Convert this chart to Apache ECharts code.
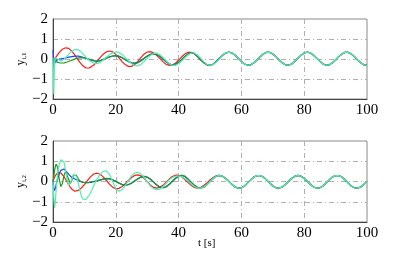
<!DOCTYPE html>
<html><head><meta charset="utf-8">
<script src="https://cdn.jsdelivr.net/npm/echarts@6/dist/echarts.min.js"></script>
<style>html,body{margin:0;padding:0;background:#fff}#c{width:406px;height:257px}</style>
</head><body><div id="c"></div><script>
// sample times: 0..1 step 0.25, 1.5..12 step 0.5, 13..100 step 1
const timesEarly = [0,0.25,0.5,0.75,1,1.5,2,2.5,3,3.5,4,4.5,5,5.5,6,6.5,7,7.5,8,8.5,9,9.5,10,10.5,11,11.5,12];
const timesLate = [];
for (let t = 13; t <= 100; t++) timesLate.push(t);
const times = timesEarly.concat(timesLate);

const xTicks = [0,20,40,60,80,100];
const yTicks = [-2,-1,0,1,2];

// ---- top panel (y_i,1): t = 0 .. 53 ----
const top_red = [-0.11,-0.06,0.00,0.06,0.11,
 0.22,0.33,0.42,0.49,0.53,0.56,0.55,0.53,0.47,0.39,0.30,0.19,0.07,-0.04,-0.16,-0.26,-0.34,-0.41,-0.45,-0.46,-0.45,-0.42,
 -0.30,-0.13,0.07,0.24,0.36,0.40,0.36,0.23,0.06,-0.13,-0.28,-0.37,-0.37,-0.28,-0.12,0.07,0.24,0.35,0.37,0.31,0.18,0.03,-0.13,-0.26,-0.32,-0.30,-0.21,-0.06,0.11,0.25,0.33,0.33,0.26,0.12,-0.04,-0.19,-0.29,-0.33,-0.26,-0.13,0.03];
const top_blue = [0.45,-0.38,-0.22,-0.12,-0.07,
 -0.03,-0.01,0.00,0.02,0.03,0.05,0.07,0.09,0.11,0.12,0.13,0.14,0.14,0.14,0.13,0.11,0.09,0.06,0.03,0.00,-0.03,-0.06,
 -0.10,-0.11,-0.08,-0.02,0.05,0.11,0.15,0.16,0.13,0.06,-0.04,-0.13,-0.19,-0.21,-0.17,-0.08,0.04,0.15,0.23,0.26,0.23,0.13,0.00,-0.14,-0.25,-0.29,-0.26,-0.16,-0.02,0.13,0.25,0.32,0.27,0.13,-0.03,-0.18,-0.28,-0.31,-0.25,-0.12,0.04];
const top_green = [0.02,-0.04,-0.08,-0.11,-0.13,
 -0.17,-0.19,-0.20,-0.20,-0.19,-0.17,-0.15,-0.12,-0.09,-0.06,-0.03,0.00,0.03,0.05,0.06,0.07,0.07,0.06,0.04,0.02,-0.01,-0.04,
 -0.08,-0.10,-0.09,-0.04,0.03,0.10,0.15,0.17,0.14,0.07,-0.03,-0.12,-0.19,-0.22,-0.19,-0.10,0.02,0.14,0.23,0.27,0.24,0.14,0.01,-0.13,-0.24,-0.30,-0.28,-0.18,-0.04,0.11,0.24,0.31,0.28,0.14,-0.02,-0.17,-0.28,-0.31,-0.26,-0.13,0.03];
const top_cyan = [0.05,-1.75,-0.20,0.05,0.08,
 0.00,-0.08,-0.10,-0.08,-0.02,0.06,0.15,0.24,0.32,0.39,0.44,0.47,0.48,0.46,0.42,0.35,0.27,0.18,0.09,0.00,-0.07,-0.13,
 -0.21,-0.23,-0.17,-0.05,0.09,0.22,0.31,0.35,0.33,0.23,0.08,-0.09,-0.24,-0.33,-0.34,-0.27,-0.13,0.03,0.18,0.28,0.29,0.22,0.08,-0.08,-0.23,-0.32,-0.32,-0.24,-0.10,0.06,0.20,0.30,0.30,0.20,0.04,-0.13,-0.26,-0.32,-0.28,-0.16,0.00];
// converged part of the top panel, t = 54 .. 100 (all four curves overlap)
const top_tail = [0.19,0.30,0.34,0.30,0.19,0.04,-0.12,-0.25,-0.31,-0.29,
 -0.19,-0.05,0.12,0.25,0.33,0.33,0.25,0.12,-0.05,-0.19,
 -0.29,-0.31,-0.25,-0.12,0.04,0.19,0.30,0.34,0.30,0.19,
 0.04,-0.12,-0.25,-0.31,-0.29,-0.19,-0.05,0.12,0.25,0.33,
 0.33,0.25,0.12,-0.05,-0.19,-0.29,-0.31];

// ---- bottom panel (y_i,2): t = 0 .. 52 ----
const bot_red = [0.02,0.12,0.21,0.29,0.36,
 0.44,0.46,0.42,0.35,0.24,0.11,-0.02,-0.16,-0.28,-0.38,-0.45,-0.48,-0.47,-0.44,-0.39,-0.32,-0.24,-0.15,-0.05,0.06,0.15,0.24,
 0.37,0.41,0.36,0.23,0.05,-0.13,-0.28,-0.36,-0.34,-0.25,-0.11,0.05,0.20,0.30,0.33,0.28,0.16,-0.01,-0.17,-0.29,-0.33,-0.29,-0.19,-0.04,0.12,0.25,0.31,0.31,0.23,0.10,-0.05,-0.19,-0.29,-0.33,-0.30,-0.20,-0.07,0.08,0.20,0.28];
const bot_blue = [0.00,-0.30,-0.45,-0.35,-0.15,
 0.15,0.38,0.55,0.62,0.62,0.55,0.45,0.35,0.26,0.20,0.15,0.12,0.08,0.05,0.02,-0.01,-0.03,-0.05,-0.06,-0.06,-0.05,-0.04,
 -0.01,0.03,0.08,0.12,0.14,0.13,0.08,0.00,-0.08,-0.14,-0.17,-0.15,-0.08,0.03,0.14,0.22,0.25,0.21,0.11,-0.03,-0.17,-0.27,-0.30,-0.26,-0.14,0.01,0.16,0.26,0.30,0.25,0.12,-0.04,-0.19,-0.29,-0.32,-0.27,-0.15,0.00,0.15,0.26];
const bot_green = [0.00,0.25,0.55,0.75,0.85,
 0.70,0.10,-0.25,-0.10,0.30,0.50,0.42,0.10,-0.10,0.05,0.30,0.38,0.30,0.15,0.03,-0.03,-0.05,-0.06,-0.06,-0.05,-0.04,-0.03,
 0.00,0.03,0.07,0.12,0.15,0.14,0.09,0.01,-0.08,-0.15,-0.18,-0.16,-0.09,0.02,0.13,0.22,0.26,0.22,0.12,-0.02,-0.16,-0.27,-0.31,-0.27,-0.15,0.00,0.15,0.26,0.30,0.26,0.13,-0.03,-0.18,-0.29,-0.33,-0.28,-0.16,0.00,0.15,0.26];
const bot_cyan = [0.00,-0.80,-1.30,-1.00,-0.40,
 0.40,0.85,1.08,1.13,0.95,0.55,0.10,-0.20,-0.20,0.10,0.35,0.40,0.25,-0.05,-0.40,-0.70,-0.87,-0.92,-0.88,-0.80,-0.68,-0.55,
 -0.20,0.12,0.35,0.50,0.52,0.35,0.00,-0.35,-0.48,-0.40,-0.20,0.05,0.28,0.42,0.46,0.38,0.20,-0.02,-0.22,-0.35,-0.40,-0.38,-0.27,-0.10,0.08,0.20,0.26,0.27,0.24,0.15,0.02,-0.12,-0.25,-0.32,-0.33,-0.27,-0.15,0.00,0.15,0.26];
// converged part of the bottom panel, t = 53 .. 100
const bot_tail = [0.30,0.26,0.15,0.01,-0.15,-0.27,-0.33,-0.31,-0.22,-0.07,
 0.08,0.22,0.29,0.29,0.22,0.08,-0.07,-0.22,-0.31,-0.33,
 -0.27,-0.15,0.01,0.15,0.26,0.30,0.26,0.15,0.01,-0.15,
 -0.27,-0.33,-0.31,-0.22,-0.07,0.08,0.22,0.29,0.29,0.22,
 0.08,-0.07,-0.22,-0.31,-0.33,-0.27,-0.15,0.01];

const colors = {red:'#ff1a1a', blue:'#2244ff', green:'#1c9a1c', cyan:'#4df0b0'};
const SERIF = "'Liberation Serif','DejaVu Serif',serif";

function pairs(vals){ return times.map((t,i)=>[t, vals[i]]); }
function mk(name, vals, color, idx){
  return {type:'line', name, data:pairs(vals), xAxisIndex:idx, yAxisIndex:idx,
    showSymbol:false, symbol:'none', smooth:false, lineStyle:{width:1.2, color}, silent:true, animation:false};
}
const grid = [
  {left:53, right:39, top:19, height:80, show:true, borderColor:'#8a8a8a', borderWidth:1},
  {left:53, right:39, top:141, height:81, show:true, borderColor:'#8a8a8a', borderWidth:1}
];
const split = {show:true, showMinLine:false, showMaxLine:false, lineStyle:{color:'#b0b0b0', width:1, type:[5,3,1,3]}};
function xAx(i){ return {type:'value', gridIndex:i, min:xTicks[0], max:xTicks[xTicks.length-1], interval:20,
  axisLine:{show:true, onZero:false, lineStyle:{color:'#444', width:1}}, axisTick:{show:false},
  axisLabel:{fontFamily:SERIF, fontSize:15, color:'#000', margin:4}, splitLine:split}; }
function yAx(i, sub){ return {type:'value', gridIndex:i, min:yTicks[0], max:yTicks[yTicks.length-1], interval:1,
  axisLine:{show:true, lineStyle:{color:'#444', width:1}}, axisTick:{show:false},
  axisLabel:{fontFamily:SERIF, fontSize:15, color:'#000', margin:5, formatter:v=> v<0 ? '\u2212'+(-v) : String(v)},
  splitLine:split,
  name:'{a|y}{b|'+sub+'}', nameLocation:'middle', nameGap:25, nameRotate:90, nameMoveOverlap:false,
  nameTextStyle:{rich:{a:{fontFamily:SERIF, fontSize:12, color:'#000', lineHeight:14},
                       b:{fontFamily:SERIF, fontSize:7, color:'#000', lineHeight:14, verticalAlign:'bottom', padding:[5,0,0,0]}}}}; }

const chart = echarts.init(document.getElementById('c'), null, {renderer:'canvas'});
chart.setOption({
  animation:false,
  backgroundColor:'#fff',
  grid,
  xAxis:[xAx(0), xAx(1)],
  yAxis:[yAx(0,'i,1'), yAx(1,'i,2')],
  graphic:[{type:'text', left:198, top:238, style:{text:'t [s]', font:"11px 'Liberation Serif'", fill:'#000'}}],
  series:[
    mk('r1', top_red.concat(top_tail), colors.red, 0),
    mk('b1', top_blue.concat(top_tail), colors.blue, 0),
    mk('g1', top_green.concat(top_tail), colors.green, 0),
    mk('c1', top_cyan.concat(top_tail), colors.cyan, 0),
    mk('r2', bot_red.concat(bot_tail), colors.red, 1),
    mk('b2', bot_blue.concat(bot_tail), colors.blue, 1),
    mk('g2', bot_green.concat(bot_tail), colors.green, 1),
    mk('c2', bot_cyan.concat(bot_tail), colors.cyan, 1)
  ]
});
</script></body></html>
